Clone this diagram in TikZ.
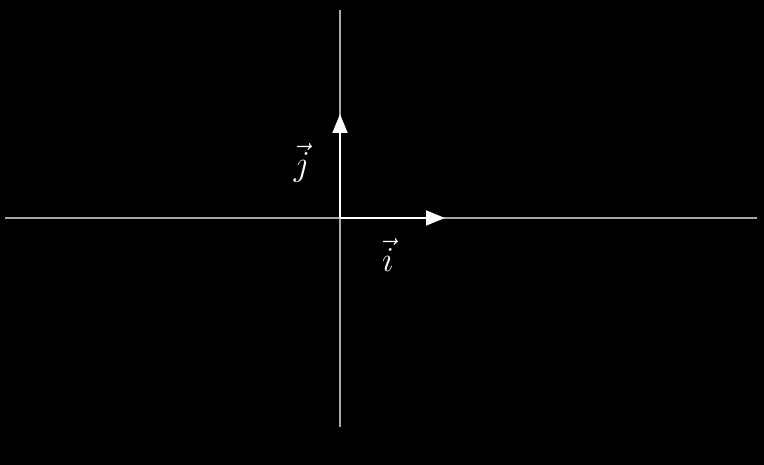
\documentclass[tikz,border=0pt]{standalone}
\usepackage{tikz}
\usetikzlibrary{arrows.meta,positioning}
\definecolor{axisgray}{RGB}{168,168,168}

\begin{document}
\begin{tikzpicture}[x=0.025cm, y=0.025cm,
    axis/.style={draw=axisgray, line width=1.3pt},
    unitvec/.style={draw=white, line width=1.8pt, -{Triangle[length=13.5pt, width=10.5pt]}},
    veclabel/.style={text=white, font=\fontsize{24}{28}\selectfont}
]

\fill[black] (-340,-247) rectangle (424,218);

\coordinate (o) at (0,0);
\coordinate (xl) at (-335,0);
\coordinate (xr) at (417,0);
\coordinate (yt) at (0,208);
\coordinate (yb) at (0,-209);
\coordinate (ie) at (105,0);
\coordinate (je) at (0,104);

\draw[axis] (xl) -- (xr);
\draw[axis] (yt) -- (yb);

\draw[unitvec] (o) -- (ie);
\draw[unitvec] (o) -- (je);

\node[veclabel] (li) at (48,-37) {$\vec{i}$};
\node[veclabel] (lj) at (-38,55) {$\vec{j}$};

\end{tikzpicture}
\end{document}
